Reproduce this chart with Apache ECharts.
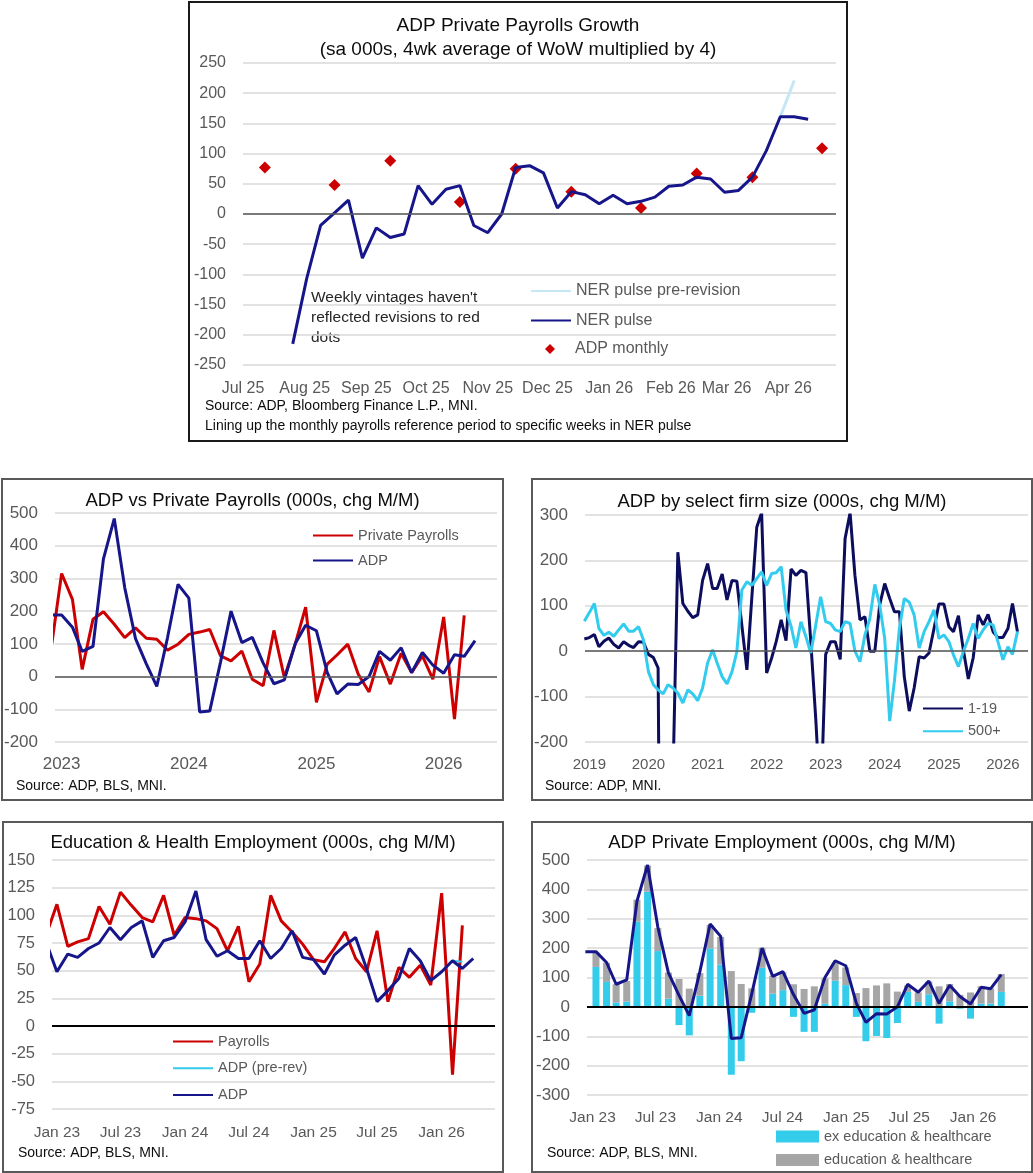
<!DOCTYPE html>
<html>
<head>
<meta charset="utf-8">
<title>ADP charts</title>
<script src="https://cdn.jsdelivr.net/npm/echarts@6.0.0/dist/echarts.min.js"></script>
<style>
  html, body { margin: 0; padding: 0; background: #fff; }
  body { position: relative; width: 1033px; height: 1173px; overflow: hidden; }
  .panel { position: absolute; box-sizing: border-box; border: 2px solid #595959; background: #fff; }
  .chart { position: absolute; left: 0; top: 0; right: 0; bottom: 0; }
</style>
</head>
<body>
<div class="panel" style="left:188px;top:1px;width:660px;height:441px;border-color:#1a1a1a;"><div class="chart" id="pulse"></div></div>
<div class="panel" style="left:1px;top:478px;width:503px;height:323px;"><div class="chart" id="vsPayrolls"></div></div>
<div class="panel" style="left:531px;top:478px;width:502px;height:323px;"><div class="chart" id="firmSize"></div></div>
<div class="panel" style="left:2px;top:821px;width:502px;height:352px;"><div class="chart" id="eduHealth"></div></div>
<div class="panel" style="left:531px;top:821px;width:502px;height:352px;"><div class="chart" id="privEmp"></div></div>
<script>
// ---- weekly NER pulse (top chart) ----
const weekDates = [
  '2025-07-12', '2025-07-19', '2025-07-26', '2025-08-02', '2025-08-09', '2025-08-16', '2025-08-23', '2025-08-30',
  '2025-09-06', '2025-09-13', '2025-09-20', '2025-09-27', '2025-10-04', '2025-10-11', '2025-10-18', '2025-10-25',
  '2025-11-01', '2025-11-08', '2025-11-15', '2025-11-22', '2025-11-29', '2025-12-06', '2025-12-13', '2025-12-20',
  '2025-12-27', '2026-01-03', '2026-01-10', '2026-01-17', '2026-01-24', '2026-01-31', '2026-02-07', '2026-02-14',
  '2026-02-21', '2026-02-28', '2026-03-07', '2026-03-14', '2026-03-21', '2026-03-28', '2026-04-04', '2026-04-11',
  '2026-04-18'
]
const nerPulse = [
  null, null, -215, -107, -19, 2, 23, -73, -23, -39, -33, 47, 16, 41, 47, -19, -31, 0, 77, 80,
  68, 10, 37, 32, 17, 31, 17, 21, 28, 46, 48, 61, 58, 36, 39, 61, 105, 161, 161, 157, null
]
const nerPulsePreRevision = [
  null, null, null, null, null, null, null, null, null, null, null, null, null, null, null, null, null, null, null, null,
  null, null, null, null, null, null, null, null, null, null, null, null, null, null, null, null, null, 161, 221, null, null
]
const adpMonthly = [
  77, null, null, null, null, 48, null, null, null, 88, null, null, null, null, 20, null, null, null, 75, null,
  null, null, 37, null, null, null, null, 10, null, null, null, 67, null, null, null, 61, null, null, null, null, 109
]
const pulseTickDates = ['2025-07-01', '2025-08-01', '2025-09-01', '2025-10-01', '2025-11-01', '2025-12-01', '2026-01-01', '2026-02-01', '2026-03-01', '2026-04-01']
const pulseTickLabels = ['Jul 25', 'Aug 25', 'Sep 25', 'Oct 25', 'Nov 25', 'Dec 25', 'Jan 26', 'Feb 26', 'Mar 26', 'Apr 26']

// ---- monthly, Dec 2022 .. Apr 2026 ----
const privatePayrolls = [
  78, 315, 236, 22, 175, 198, 160, 119, 149, 117, 114, 81, 99, 129, 136, 144, 63, 48, 78, -8,
  -28, 141, -3, 99, 212, -79, 38, 66, 99, 7, -47, 61, -23, 71, 12, 63, -8, 182, -130, 187, null
]
const adpTotal = [
  188, 188, 151, 77, 92, 360, 483, 272, 116, 39, -30, 120, 282, 240, -108, -105, 45, 200, 104, 120,
  42, -22, -10, 100, 157, 140, 12, -53, -23, -24, 0, 77, 50, 88, 12, 74, 35, 10, 67, 62, 110
]
const payrollsEduHealth = [
  82, 110, 72, 76, 79, 108, 92, 121, 109, 98, 94, 118, 82, 98, 97, 95, 88, 68, 90, 40,
  56, 118, 95, 85, 74, 60, 58, 70, 85, 61, 49, 86, 22, 53, 44, 55, 37, 120, -44, 91, null
]
const adpEduHealth = [
  76, 49, 65, 62, 70, 75, 89, 78, 89, 95, 62, 77, 80, 94, 122, 78, 63, 68, 61, 61,
  77, 61, 70, 86, 62, 60, 47, 64, 73, 80, 52, 22, 32, 43, 70, 59, 41, 49, 59, 52, 61
]
const adpEduHealthPreRev = [
  null, null, null, null, null, null, null, null, null, null, null, null, null, null, null, null, null, null, null, null,
  null, null, null, null, null, null, null, null, null, null, null, null, null, null, null, null, null, null, 59, 58, null
]
// Jan 2023 .. Apr 2026
const adpExEduHealth = [
  136, 85, 15, 18, 290, 392, 190, 28, -62, -97, 38, 199, 144, -231, -185, -20, 133, 45, 57, -34,
  -85, -85, 11, 89, 74, -34, -117, -99, -106, -55, 51, 17, 43, -57, 19, -6, -40, 11, 11, 51
]

// ---- monthly firm size, Dec 2018 .. Apr 2026 ----
const firm1to19 = [
  27, 30, 37, 10, 22, 29, 15, 7, 21, 13, 8, 21, 20, -7, -14, -37, -1500, -900, -280, 218,
  105, 88, 74, 80, 156, 193, 138, 138, 170, 113, 156, 154, 56, -41, 116, 273, 305, -48, -15, 21,
  69, 23, 181, 167, 178, 173, 21, -150, -350, -7, 21, 21, -18, 248, 305, 167, 69, 76, 0, 0,
  102, 149, 116, 87, 87, -56, -132, -81, -12, -15, -4, 50, 104, 104, 54, 43, 78, 3, -61, -15,
  80, 58, 81, 43, 30, 30, 50, 105, 43
]
const firm500plus = [
  66, 85, 105, 50, 35, 42, 33, 47, 60, 44, 44, 54, 25, -45, -74, -85, -94, -74, -81, -92,
  -114, -85, -94, -109, -81, -26, 3, -26, -56, -72, -45, -1, 135, 153, 145, 160, 175, 145, 171, 173,
  186, 90, 55, 7, 65, 32, -4, 58, 120, 65, 61, 47, 43, 65, 61, 0, -23, 36, 72, 147,
  102, 28, -154, -66, 50, 116, 108, 80, 7, 43, 65, 91, 28, 36, 21, -8, -34, -1, 28, 61,
  28, 47, 61, 58, 21, -19, 10, -7, 43
]

const yearTickDates = ['2023-01-01', '2024-01-01', '2025-01-01', '2026-01-01']
const yearTickLabels = ['2023', '2024', '2025', '2026']
const longYearTickDates = ['2019-01-01', '2020-01-01', '2021-01-01', '2022-01-01', '2023-01-01', '2024-01-01', '2025-01-01', '2026-01-01']
const longYearTickLabels = ['2019', '2020', '2021', '2022', '2023', '2024', '2025', '2026']
const halfYearTickDates = ['2023-01-01', '2023-07-01', '2024-01-01', '2024-07-01', '2025-01-01', '2025-07-01', '2026-01-01']
const halfYearTickLabels = ['Jan 23', 'Jul 23', 'Jan 24', 'Jul 24', 'Jan 25', 'Jul 25', 'Jan 26']

const FONT = "'Liberation Sans', Arial, sans-serif"
const LABEL_COLOR = '#595959'
const TITLE_COLOR = '#0d0d0d'
const GRID_COLOR = '#D9D9D9'
const NAVY = '#16168A'
const DARK_NAVY = '#0D0D5E'
const RED = '#CC0000'
const CYAN = '#33CCEE'

// local-time timestamp from 'YYYY-MM-DD'
function ts (s) {
  const p = s.split('-')
  return new Date(+p[0], +p[1] - 1, +(p[2] || 1)).getTime()
}

// first-of-month date strings
function monthRange (year, month, count) {
  const out = []
  for (let i = 0; i < count; i++) {
    const yy = year + Math.floor((month - 1 + i) / 12)
    const mm = (month - 1 + i) % 12 + 1
    out.push(yy + '-' + String(mm).padStart(2, '0') + '-01')
  }
  return out
}
const months2023 = monthRange(2022, 12, 41)
const months2019 = monthRange(2018, 12, 89)

// date axis drawn as a value axis over timestamps, labels only at the given dates
function dateAxis (min, max, tickDates, tickLabels, fontSize, margin) {
  const lookup = {}
  tickDates.forEach(function (d, i) { lookup[ts(d)] = tickLabels[i] })
  return {
    type: 'value',
    position: 'bottom',
    min: ts(min),
    max: ts(max),
    scale: true,
    axisLine: { show: false },
    axisTick: { show: false },
    splitLine: { show: false },
    axisLabel: {
      customValues: tickDates.map(ts),
      formatter: function (v) { return lookup[v] || '' },
      fontSize: fontSize,
      fontFamily: FONT,
      color: LABEL_COLOR,
      margin: margin,
      hideOverlap: false,
      showMinLabel: true,
      showMaxLabel: true
    }
  }
}

// plain time axis with no labels (used where bars need stacking)
function bareTimeAxis (min, max) {
  return {
    type: 'time',
    position: 'bottom',
    min: ts(min),
    max: ts(max),
    axisLine: { show: false },
    axisTick: { show: false },
    axisLabel: { show: false },
    splitLine: { show: false }
  }
}

function valueAxis (min, max, interval, fontSize) {
  return {
    type: 'value',
    min: min,
    max: max,
    interval: interval,
    axisLine: { show: false },
    axisTick: { show: false },
    axisLabel: { fontSize: fontSize, fontFamily: FONT, color: LABEL_COLOR, margin: 17 },
    splitLine: { lineStyle: { color: GRID_COLOR, width: 1.5 } }
  }
}

function pairs (dates, values) {
  return dates.map(function (d, i) { return [ts(d), values[i]] }).filter(function (p) { return p[1] != null })
}

function line (name, dates, values, color, width, extra) {
  return Object.assign({
    name: name,
    type: 'line',
    symbol: 'none',
    showSymbol: false,
    lineStyle: { color: color, width: width },
    itemStyle: { color: color },
    data: pairs(dates, values)
  }, extra || {})
}

function stackedBar (name, dates, values, color) {
  return {
    name: name,
    type: 'bar',
    stack: 'adp',
    barWidth: 7,
    itemStyle: { color: color },
    data: pairs(dates, values)
  }
}

function zeroLine (color, width) {
  return {
    silent: true,
    symbol: 'none',
    label: { show: false },
    lineStyle: { color: color, width: width, type: 'solid' },
    data: [{ yAxis: 0 }]
  }
}

function title (text, top, size) {
  return {
    text: text,
    left: 'center',
    top: top,
    padding: 0,
    textStyle: { fontSize: size, lineHeight: 24, fontWeight: 'normal', color: TITLE_COLOR, fontFamily: FONT }
  }
}

// vertical legend of plain line icons (the marker on the icon is hidden)
function legend (names, left, top, gap, size, extra) {
  return Object.assign({
    data: names,
    orient: 'vertical',
    left: left,
    top: top,
    padding: 0,
    itemWidth: 40,
    itemHeight: 14,
    itemGap: gap,
    selectedMode: false,
    itemStyle: { opacity: 0 },
    textStyle: { fontSize: size, color: LABEL_COLOR, fontFamily: FONT }
  }, extra || {})
}

function note (text, x, y, size, extra) {
  return {
    type: 'text',
    x: x,
    y: y,
    silent: true,
    style: Object.assign({ text: text, fontSize: size, fontFamily: FONT, fill: TITLE_COLOR, verticalAlign: 'middle' }, extra || {})
  }
}

// ---- top: weekly NER pulse ----
const pulseChart = echarts.init(document.getElementById('pulse'))
pulseChart.setOption({
  animation: false,
  title: title('ADP Private Payrolls Growth\n(sa 000s, 4wk average of WoW multiplied by 4)', 11, 19),
  grid: { left: 53, right: 10, top: 60, bottom: 75, outerBoundsMode: 'none' },
  legend: [
    legend(['NER pulse pre-revision', 'NER pulse'], 340, 280, 13.5, 16),
    legend([{ name: 'ADP monthly', icon: 'diamond' }], 355, 338, 10, 16, {
      itemWidth: 10,
      itemHeight: 10,
      itemStyle: { opacity: 1 },
      textStyle: { fontSize: 16, color: LABEL_COLOR, fontFamily: FONT, padding: [0, 0, 0, 15] }
    })
  ],
  xAxis: dateAxis('2025-07-01', '2026-04-25', pulseTickDates, pulseTickLabels, 16, 16),
  yAxis: valueAxis(-250, 250, 50, 16),
  graphic: [
    note("Weekly vintages haven't\nreflected revisions to red\ndots", 121, 285, 15.5, { verticalAlign: 'top', lineHeight: 20, fill: '#262626' }),
    note('Source: ADP, Bloomberg Finance L.P., MNI.', 15, 403, 14),
    note('Lining up the monthly payrolls reference period to specific weeks in NER pulse', 15, 423, 14)
  ],
  series: [
    line('NER pulse pre-revision', weekDates, nerPulsePreRevision, '#C5E6F5', 3, { markLine: zeroLine('#595959', 1.5) }),
    line('NER pulse', weekDates, nerPulse, NAVY, 3),
    {
      name: 'ADP monthly',
      type: 'scatter',
      symbol: 'diamond',
      symbolSize: 12,
      itemStyle: { color: RED, opacity: 1 },
      data: pairs(weekDates, adpMonthly)
    }
  ]
})

// ---- middle left: ADP vs private payrolls ----
const vsChart = echarts.init(document.getElementById('vsPayrolls'))
vsChart.setOption({
  animation: false,
  title: title('ADP vs Private Payrolls (000s, chg M/M)', 9, 18.5),
  grid: { left: 52, right: 5, top: 33, bottom: 57, outerBoundsMode: 'none' },
  legend: legend(['Private Payrolls', 'ADP'], 309, 48, 10, 14.5),
  xAxis: dateAxis('2022-12-13', '2026-06-03', yearTickDates, yearTickLabels, 17, 14),
  yAxis: valueAxis(-200, 500, 100, 17),
  graphic: [note('Source: ADP, BLS, MNI.', 13, 306, 14)],
  series: [
    line('Private Payrolls', months2023, privatePayrolls, RED, 3, { markLine: zeroLine('#595959', 1.5) }),
    line('ADP', months2023, adpTotal, NAVY, 3)
  ]
})

// ---- middle right: firm size ----
const firmChart = echarts.init(document.getElementById('firmSize'))
firmChart.setOption({
  animation: false,
  title: title('ADP by select firm size (000s, chg M/M)', 10, 18.5),
  grid: { left: 52, right: 3, top: 35, bottom: 57, outerBoundsMode: 'none' },
  legend: legend(['1-19', '500+'], 389, 221, 7.7, 14.5),
  xAxis: dateAxis('2018-12-05', '2026-06-05', longYearTickDates, longYearTickLabels, 15, 15),
  yAxis: valueAxis(-200, 300, 100, 17),
  graphic: [note('Source: ADP, MNI.', 12, 306, 14)],
  series: [
    line('1-19', months2019, firm1to19, DARK_NAVY, 3, { markLine: zeroLine('#595959', 1.5) }),
    line('500+', months2019, firm500plus, CYAN, 3)
  ]
})

// ---- bottom left: education & health ----
const eduChart = echarts.init(document.getElementById('eduHealth'))
eduChart.setOption({
  animation: false,
  title: title('Education & Health Employment (000s, chg M/M)', 8, 18.5),
  grid: { left: 48, right: 7, top: 37, bottom: 62, outerBoundsMode: 'none' },
  legend: legend(['Payrolls', 'ADP (pre-rev)', 'ADP'], 168, 211, 11.7, 14.5),
  xAxis: dateAxis('2022-12-18', '2026-06-02', halfYearTickDates, halfYearTickLabels, 15.5, 16),
  yAxis: valueAxis(-75, 150, 25, 16.5),
  graphic: [note('Source: ADP, BLS, MNI.', 14, 330, 14)],
  series: [
    line('Payrolls', months2023, payrollsEduHealth, RED, 3, { markLine: zeroLine('#000000', 2) }),
    line('ADP (pre-rev)', months2023, adpEduHealthPreRev, CYAN, 2),
    line('ADP', months2023, adpEduHealth, NAVY, 3)
  ]
})

// ---- bottom right: ADP private employment, stacked ----
// series sit on a label-less time axis (so the bars stack); a twin value axis over the same range carries the labels
const barMonths = months2023.slice(1)
const barLegend = {
  orient: 'vertical',
  left: 243,
  padding: 0,
  itemWidth: 43,
  itemHeight: 12,
  selectedMode: false,
  textStyle: { fontSize: 14.5, color: LABEL_COLOR, fontFamily: FONT }
}
const empChart = echarts.init(document.getElementById('privEmp'))
empChart.setOption({
  animation: false,
  title: title('ADP Private Employment (000s, chg M/M)', 8, 18.5),
  grid: { left: 54, right: 3, top: 37, bottom: 76, outerBoundsMode: 'none' },
  legend: [
    Object.assign({ data: [{ name: 'ex education & healthcare', icon: 'rect' }], top: 306 }, barLegend),
    Object.assign({ data: [{ name: 'education & healthcare', icon: 'rect' }], top: 329.5 }, barLegend)
  ],
  xAxis: [
    bareTimeAxis('2022-12-16', '2026-06-08'),
    dateAxis('2022-12-16', '2026-06-08', halfYearTickDates, halfYearTickLabels, 15.5, 15)
  ],
  yAxis: valueAxis(-300, 500, 100, 17),
  graphic: [note('Source: ADP, BLS, MNI.', 14, 330, 14)],
  series: [
    stackedBar('ex education & healthcare', barMonths, adpExEduHealth, '#33CCEB'),
    stackedBar('education & healthcare', barMonths, adpEduHealth.slice(1), '#A6A6A6'),
    line('ADP', months2023, adpTotal, NAVY, 3, { markLine: zeroLine('#000000', 2) })
  ]
})
</script>
</body>
</html>
